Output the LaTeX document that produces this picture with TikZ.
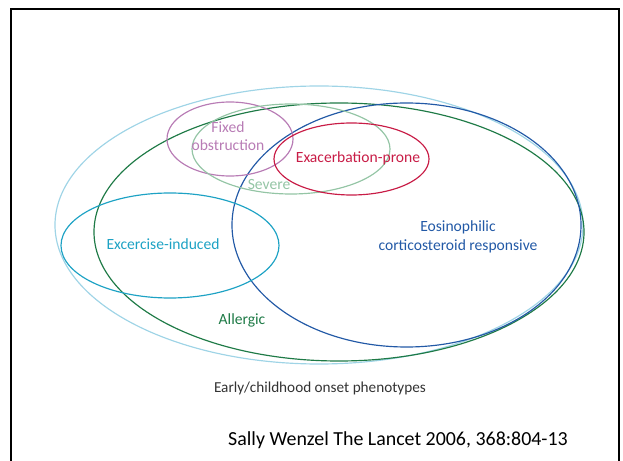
\documentclass[tikz,border=0pt]{standalone}
\usepackage{fontspec}
\setmainfont{Carlito}
\usepackage{xcolor}
\usetikzlibrary{positioning}

\definecolor{onsetblue}{HTML}{9FD4E6}
\definecolor{allergicgreen}{HTML}{1E7A46}
\definecolor{eosblue}{HTML}{2259A6}
\definecolor{exercisecyan}{HTML}{1DA2C4}
\definecolor{fixedpink}{HTML}{B87CB5}
\definecolor{severesage}{HTML}{94C5A5}
\definecolor{exacred}{HTML}{C81C46}

\tikzset{
  phenotype/.style={line width=1pt},
  label/.style={font=\fontsize{13.3}{15}\selectfont, inner sep=0pt},
}

\begin{document}
\begin{tikzpicture}[x=0.03cm, y=-0.03cm]

\useasboundingbox (0,0) rectangle (623,461);

% frame
\draw[black, line width=2.2pt] (11,461)--(11,9)--(619,9)--(619,461);

% phenotype ellipses
{
\draw[phenotype, onsetblue] (319,225) ellipse [x radius=264, y radius=139];
\draw[phenotype, allergicgreen] (339,232) ellipse [x radius=245, y radius=129];
\draw[phenotype, eosblue] (406.5,225) ellipse [x radius=174.5, y radius=122];
\draw[phenotype, exercisecyan] (170,245.5) ellipse [x radius=109, y radius=52.5];
\draw[phenotype, fixedpink] (230,139) ellipse [x radius=63, y radius=37];
\draw[phenotype, severesage] (291,149) ellipse [x radius=99, y radius=45];
\draw[phenotype, exacred] (351.5,159) ellipse [x radius=77.5, y radius=36];
}

\node[label, fixedpink] (fixed) at (228,127) {Fixed};
\node[label, fixedpink, below=6pt of fixed.south] (obstruction) {obstruction};
\node[label, exacred] (exacerbation) at (358,158) {Exacerbation-prone};
\node[label, severesage] (severe) at (269,184) {Severe};
\node[label, exercisecyan] (exercise) at (163,244) {Excercise-induced};
\node[label, eosblue] (eosinophilic) at (458,227) {Eosinophilic};
\node[label, eosblue, below=5pt of eosinophilic.south] (responsive) {corticosteroid responsive};
\node[label, allergicgreen] (allergic) at (242,320) {Allergic};
\node[label, black!80, font=\fontsize{13}{15}\selectfont] (onset) at (320,388) {Early/childhood onset phenotypes};

\node[black, inner sep=0pt, font=\fontsize{17}{20}\selectfont] (citation) at (398,440) {Sally Wenzel The Lancet 2006, 368:804-13};

\end{tikzpicture}
\end{document}
